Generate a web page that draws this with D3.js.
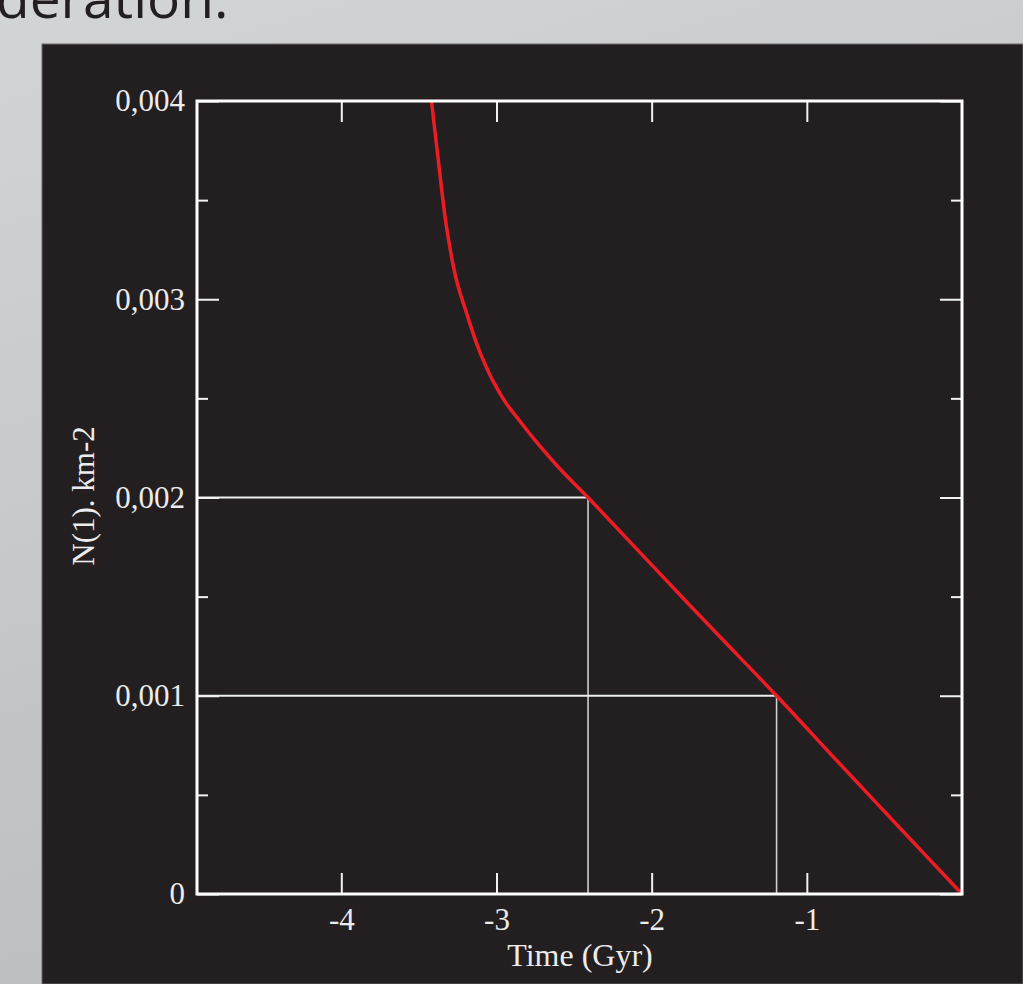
<!DOCTYPE html>
<html>
<head>
<meta charset="utf-8">
<script src="https://cdn.jsdelivr.net/npm/d3@7/dist/d3.min.js"></script>
<style>
  html, body { margin: 0; padding: 0; overflow: hidden; }
  svg { display: block; }
</style>
</head>
<body>
<script>
// ---- data ----
const curveN    = [0, 0.000333, 0.000667, 0.001, 0.00133, 0.00166, 0.002, 0.002139, 0.00229, 0.002391, 0.002477, 0.002578, 0.002678, 0.002779, 0.002931, 0.003097, 0.003359, 0.003702, 0.004];
const curveTime = [0, -0.4, -0.8, -1.195, -1.6, -2.0, -2.41, -2.584, -2.752, -2.855, -2.939, -3.016, -3.077, -3.129, -3.193, -3.258, -3.321, -3.375, -3.419];
const refTime = [-2.41, -1.195];
const refN = [0.002, 0.001];
const xTicks = [-4, -3, -2, -1];
const yTicks = [0, 0.001, 0.002, 0.003, 0.004];
const yMinorTicks = [0.0005, 0.0015, 0.0025, 0.0035];
const xDomain = [-4.93, 0];
const yDomain = [0, 0.004];
const xTitle = "Time (Gyr)";
const yTitle = "N(1). km-2";
const headingText = "deration.";

const W = 1023, H = 984;
const svg = d3.select("body").append("svg").attr("width", W).attr("height", H);

const defs = svg.append("defs");
const grad = defs.append("linearGradient").attr("id", "bg").attr("x1", 0).attr("y1", 0).attr("x2", 0.3).attr("y2", 1);
grad.append("stop").attr("offset", "0%").attr("stop-color", "#d3d4d6");
grad.append("stop").attr("offset", "100%").attr("stop-color", "#bcbdbf");
svg.append("rect").attr("width", W).attr("height", H).attr("fill", "url(#bg)");

svg.append("text").attr("x", -4).attr("y", 18)
  .attr("font-family", "'Open Sans', sans-serif").attr("font-size", 55)
  .attr("fill", "#231f20").text(headingText);

// dark panel
svg.append("rect").attr("x", 42).attr("y", 44).attr("width", W - 42).attr("height", H - 44)
  .attr("fill", "#231f20").attr("stroke", "#6a6a6a").attr("stroke-width", 1);

const L = 197, R = 962, T = 101, B = 894;
const x = d3.scaleLinear().domain(xDomain).range([L, R]);
const y = d3.scaleLinear().domain(yDomain).range([B, T]);

const fmtY = d => d === 0 ? "0" : d3.format(".3f")(d).replace(".", ",");
const fmtX = d => String(d);
const fontFam = "'Liberation Serif', 'Times New Roman', serif";
const tickCol = "#f2f2f2";

function style(g) {
  g.select(".domain").remove();
  g.selectAll(".tick line").attr("stroke", tickCol).attr("stroke-width", 2);
  g.selectAll(".tick text").attr("fill", "#ececec").attr("font-family", fontFam).attr("font-size", 31);
}

// reference lines
const ref = svg.append("g");
refTime.forEach((t, i) => {
  ref.append("line").attr("x1", x(xDomain[0])).attr("x2", x(t)).attr("y1", y(refN[i])).attr("y2", y(refN[i]))
    .attr("stroke", "#eeeeee").attr("stroke-width", 2);
  ref.append("line").attr("x1", x(t)).attr("x2", x(t)).attr("y1", y(refN[i])).attr("y2", y(0))
    .attr("stroke", "#cfcfcf").attr("stroke-width", 1.6);
});

// axes
svg.append("g").attr("transform", `translate(0,${B})`)
  .call(d3.axisBottom(x).tickValues(xTicks).tickSize(-21).tickPadding(14).tickFormat(fmtX))
  .call(style);
svg.append("g").attr("transform", `translate(0,${T})`)
  .call(d3.axisTop(x).tickValues(xTicks).tickSize(-21).tickFormat(""))
  .call(style);
svg.append("g").attr("transform", `translate(${L},0)`)
  .call(d3.axisLeft(y).tickValues(yTicks).tickSize(-22).tickPadding(12).tickFormat(fmtY))
  .call(style);
svg.append("g").attr("transform", `translate(${L},0)`)
  .call(d3.axisLeft(y).tickValues(yMinorTicks).tickSize(-11).tickFormat(""))
  .call(style);
svg.append("g").attr("transform", `translate(${R},0)`)
  .call(d3.axisRight(y).tickValues(yTicks).tickSize(-22).tickFormat(""))
  .call(style);
svg.append("g").attr("transform", `translate(${R},0)`)
  .call(d3.axisRight(y).tickValues(yMinorTicks).tickSize(-11).tickFormat(""))
  .call(style);

// curve
const pts = curveN.map((n, i) => [curveTime[i], n]);
const line = d3.line().x(d => x(d[0])).y(d => y(d[1])).curve(d3.curveCatmullRom.alpha(0.5));
svg.append("path").datum(pts).attr("d", line)
  .attr("fill", "none").attr("stroke", "#ed1c24").attr("stroke-width", 3.5);

// frame
svg.append("rect").attr("x", L).attr("y", T).attr("width", R - L).attr("height", B - T)
  .attr("fill", "none").attr("stroke", "#ffffff").attr("stroke-width", 3);

// titles
svg.append("text").attr("x", 580).attr("y", 966).attr("text-anchor", "middle")
  .attr("font-family", fontFam).attr("font-size", 32).attr("fill", "#ececec").text(xTitle);
svg.append("text").attr("transform", "translate(94,496) rotate(-90)").attr("text-anchor", "middle")
  .attr("font-family", fontFam).attr("font-size", 31).attr("fill", "#ececec").text(yTitle);
</script>
</body>
</html>
